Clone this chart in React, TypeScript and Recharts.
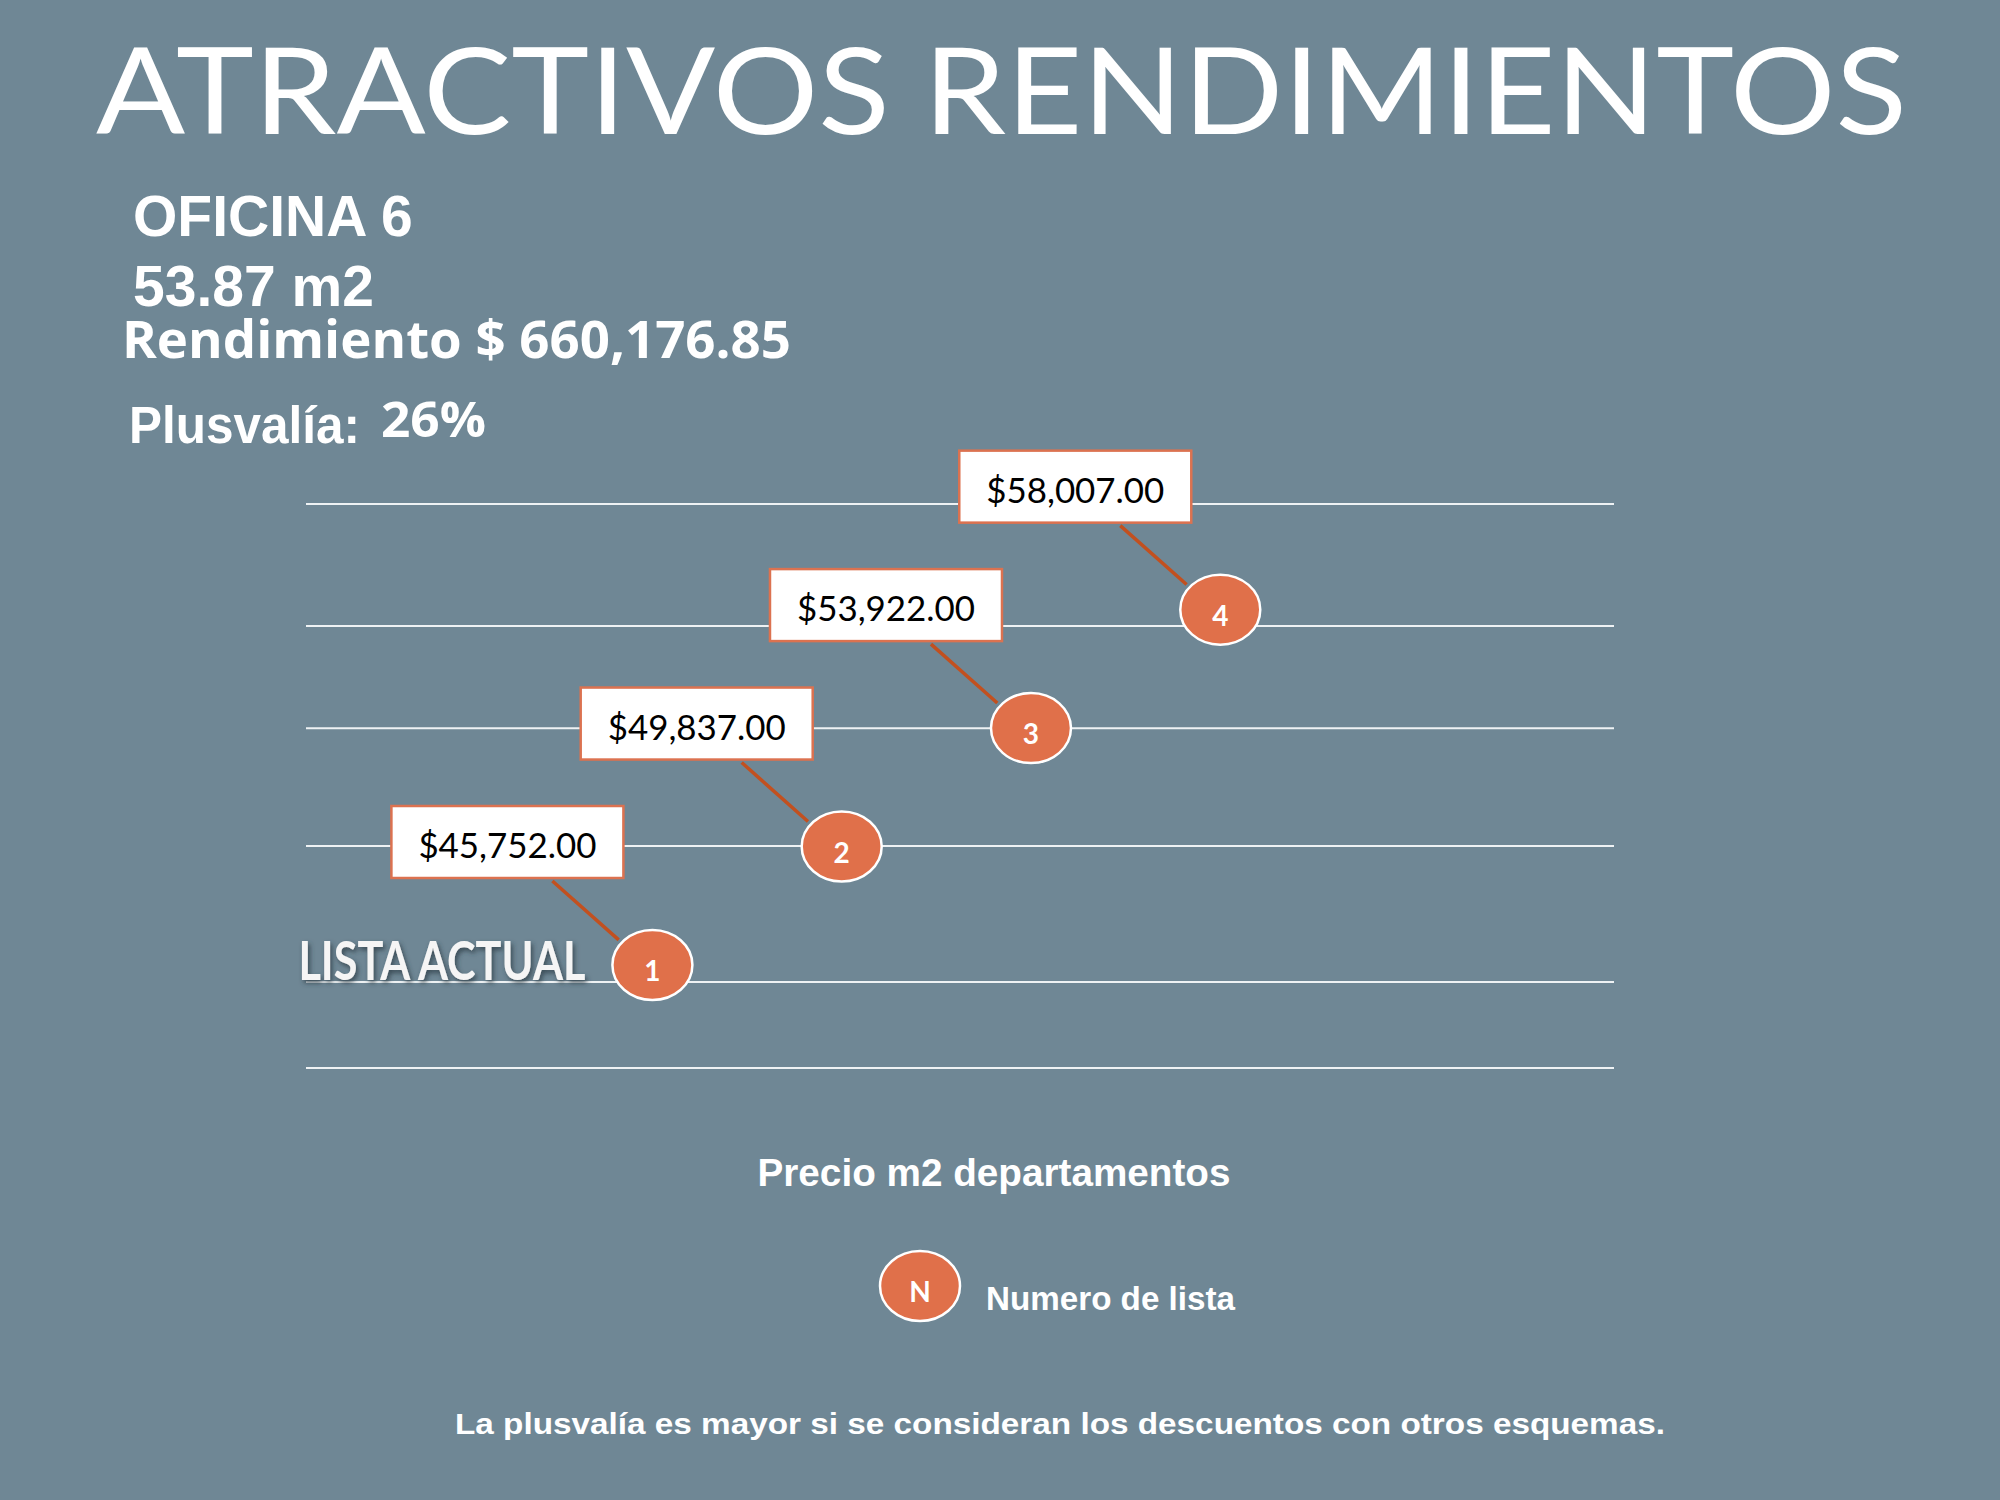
import React from "react";
import { ScatterChart, Scatter, XAxis, YAxis, ReferenceLine } from "recharts";

// chart values
const listNumbers = [1, 2, 3, 4];
const prices = [45752, 49837, 53922, 58007];
const priceLabels = ["$45,752.00", "$49,837.00", "$53,922.00", "$58,007.00"];
const gridValues = [42200, 45170, 49860, 53920, 57440, 61650];
const currentListTag = "LISTA ACTUAL";

// header / footer texts
const title = "ATRACTIVOS RENDIMIENTOS";
const unitName = "OFICINA 6";
const unitArea = "53.87 m2";
const yieldText = "Rendimiento $ 660,176.85";
const gainLabel = "Plusvalía:";
const gainValue = "26%";
const xAxisTitle = "Precio m2 departamentos";
const legendItems = [{ symbol: "N", label: "Numero de lista" }];
const footnote = "La plusvalía es mayor si se consideran los descuentos con otros esquemas.";

const BG = "#6f8795";
const ORANGE = "#e0704a";
const BOX_BORDER = "#dc7250";
const LEADER = "#c2501f";
const ARIAL = "'Liberation Sans', Arial, sans-serif";
const CALIBRI = "Lato, 'Open Sans', sans-serif";

const data = listNumbers.map((n, i) => ({
  lista: n,
  precio: prices[i],
  label: priceLabels[i],
  tag: i === 0 ? currentListTag : "",
}));

const RX = 40;
const RY = 35;

function Marker(props: any) {
  const { cx, cy, payload } = props;
  if (cx == null || cy == null) return null;
  const bw = 232;
  const bh = 72;
  const bx = cx - 145;
  const by = cy - 123;
  const sx = bx + 45;
  const sy = by + bh / 2 + 3;
  const t = Math.atan2(sy - cy, sx - cx);
  const ex = cx + (RX + 4) * Math.cos(t);
  const ey = cy + (RY + 4) * Math.sin(t);
  return (
    <g>
      <line x1={sx} y1={sy} x2={ex} y2={ey} stroke={LEADER} strokeWidth={3.5} />
      <rect
        x={bx - bw / 2}
        y={by - bh / 2}
        width={bw}
        height={bh}
        fill="#ffffff"
        stroke={BOX_BORDER}
        strokeWidth={2.5}
      />
      <text
        x={bx}
        y={by + 2}
        textAnchor="middle"
        dominantBaseline="central"
        fontFamily={CALIBRI}
        fontSize={35}
        fill="#000000"
        textLength={178}
        lengthAdjust="spacingAndGlyphs"
      >
        {payload.label}
      </text>
      <ellipse cx={cx} cy={cy} rx={RX} ry={RY} fill={ORANGE} stroke="#ffffff" strokeWidth={2.5} />
      <text
        x={cx}
        y={cy + 5}
        textAnchor="middle"
        dominantBaseline="central"
        fontFamily={CALIBRI}
        fontWeight={700}
        fontSize={28}
        fill="#ffffff"
      >
        {payload.lista}
      </text>
      {payload.tag ? (
        <text
          x={cx - 67}
          y={cy + 15}
          textAnchor="end"
          fontFamily={CALIBRI}
          fontWeight={700}
          fontSize={54}
          fill="#f5f5f5"
          textLength={287}
          lengthAdjust="spacingAndGlyphs"
          filter="url(#tagShadow)"
        >
          {payload.tag}
        </text>
      ) : null}
    </g>
  );
}

export default function App() {
  return (
    <div style={{ position: "relative", width: 2000, height: 1500, background: BG, overflow: "hidden" }}>
      <style>{"body{margin:0}"}</style>
      <svg width={2000} height={1500} style={{ position: "absolute", left: 0, top: 0 }}>
        <defs>
          <filter id="tagShadow" x="-10%" y="-30%" width="130%" height="160%">
            <feDropShadow dx="2" dy="3" stdDeviation="2.5" floodColor="#2b3a44" floodOpacity="0.8" />
          </filter>
        </defs>
        <text
          x={96}
          y={134}
          fontFamily="Lato, 'Open Sans', sans-serif"
          fontWeight={400}
          fontSize={120}
          fill="#ffffff"
          textLength={1811}
          lengthAdjust="spacingAndGlyphs"
        >
          {title}
        </text>
        <text x={133} y={236} fontFamily={ARIAL} fontWeight={700} fontSize={57} fill="#ffffff">
          {unitName}
        </text>
        <text x={133} y={306} fontFamily={ARIAL} fontWeight={700} fontSize={57} fill="#ffffff">
          {unitArea}
        </text>
        <text
          x={122}
          y={358}
          fontFamily="'Open Sans', Lato, sans-serif"
          fontWeight={700}
          fontSize={52}
          fill="#ffffff"
          textLength={669}
          lengthAdjust="spacingAndGlyphs"
        >
          {yieldText}
        </text>
        <text
          x={129}
          y={443}
          fontFamily={ARIAL}
          fontWeight={700}
          fontSize={51}
          fill="#ffffff"
          textLength={231}
          lengthAdjust="spacingAndGlyphs"
        >
          {gainLabel}
        </text>
        <text
          x={381}
          y={437}
          fontFamily="'Open Sans', Lato, sans-serif"
          fontWeight={700}
          fontSize={48}
          fill="#ffffff"
          textLength={105}
          lengthAdjust="spacingAndGlyphs"
        >
          {gainValue}
        </text>
        <text
          x={994}
          y={1186}
          textAnchor="middle"
          fontFamily={ARIAL}
          fontWeight={700}
          fontSize={38}
          fill="#ffffff"
          textLength={473}
          lengthAdjust="spacingAndGlyphs"
        >
          {xAxisTitle}
        </text>
        {legendItems.map((item) => (
          <g key={item.label}>
            <ellipse cx={920} cy={1286} rx={RX} ry={RY} fill={ORANGE} stroke="#ffffff" strokeWidth={2.5} />
            <text
              x={920}
              y={1291}
              textAnchor="middle"
              dominantBaseline="central"
              fontFamily={CALIBRI}
              fontWeight={700}
              fontSize={28}
              fill="#ffffff"
            >
              {item.symbol}
            </text>
            <text
              x={986}
              y={1310}
              fontFamily={ARIAL}
              fontWeight={700}
              fontSize={33}
              fill="#ffffff"
              textLength={249}
              lengthAdjust="spacingAndGlyphs"
            >
              {item.label}
            </text>
          </g>
        ))}
        <text
          x={455}
          y={1434}
          fontFamily={ARIAL}
          fontWeight={700}
          fontSize={30}
          fill="#ffffff"
          textLength={1210}
          lengthAdjust="spacingAndGlyphs"
        >
          {footnote}
        </text>
      </svg>
      <div style={{ position: "absolute", left: 0, top: 0 }}>
        <ScatterChart width={2000} height={1500} margin={{ top: 504, right: 386, bottom: 432, left: 306 }}>
          <XAxis type="number" dataKey="lista" domain={[-0.83, 6.08]} hide />
          <YAxis type="number" dataKey="precio" domain={[42200, 61650]} hide />
          {gridValues.map((v) => (
            <ReferenceLine key={v} y={v} stroke="#eef2f4" strokeWidth={2} ifOverflow="extendDomain" />
          ))}
          <Scatter data={data} shape={Marker} isAnimationActive={false} />
        </ScatterChart>
      </div>
    </div>
  );
}
